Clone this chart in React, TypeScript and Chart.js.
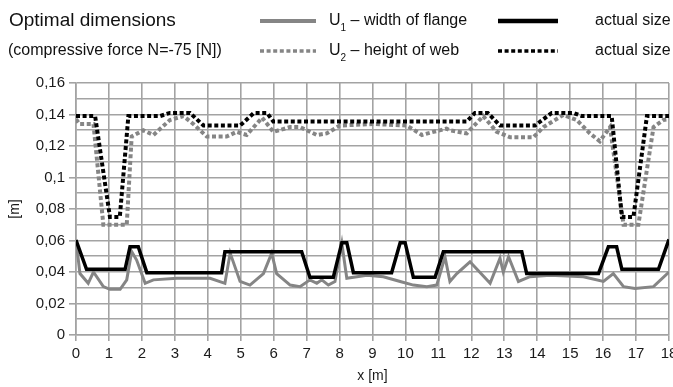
import React, { useEffect, useRef } from 'react';
import { Chart, registerables } from 'chart.js';

Chart.register(...registerables);

const FONT = "'Liberation Sans', Arial, sans-serif";
const GRID = '#a3a3a3';
const GRAY = '#858585';

const TITLE = 'Optimal dimensions';
const SUBTITLE = '(compressive force N=-75 [N])';
const X_TITLE = 'x [m]';
const Y_TITLE = '[m]';

const X_MIN = 0;
const X_MAX = 18;
const Y_MIN = 0;
const Y_MAX = 0.16;

// U1 – width of flange (optimal)
const u1X = [0, 0.12, 0.37, 0.53, 0.83, 1.03, 1.34, 1.54, 1.69, 1.84, 2.1, 2.35, 3.06, 4.07, 4.52, 4.68, 4.98, 5.28, 5.69, 5.94, 6.09, 6.5, 6.8, 7.1, 7.31, 7.46, 7.66, 7.86, 8.07, 8.22, 8.83, 9.33, 9.84, 10.24, 10.65, 10.95, 11.2, 11.35, 11.56, 11.96, 12.57, 12.87, 12.97, 13.13, 13.43, 13.78, 14.39, 15.4, 16.01, 16.31, 16.62, 16.97, 17.53, 18];
const u1Y = [0.0603, 0.039, 0.0328, 0.04, 0.0307, 0.029, 0.029, 0.035, 0.053, 0.0476, 0.0328, 0.035, 0.036, 0.036, 0.0328, 0.052, 0.034, 0.0317, 0.039, 0.052, 0.039, 0.0317, 0.0307, 0.035, 0.0328, 0.035, 0.0317, 0.034, 0.058, 0.036, 0.038, 0.037, 0.034, 0.0317, 0.0307, 0.0317, 0.0497, 0.034, 0.039, 0.0465, 0.0328, 0.0487, 0.04, 0.0497, 0.034, 0.037, 0.038, 0.037, 0.034, 0.039, 0.0307, 0.0296, 0.0307, 0.04];

// actual size of flange
const a1X = [0, 0.32, 1.49, 1.64, 1.89, 2.15, 4.42, 4.52, 6.85, 7.1, 7.81, 8.07, 8.22, 8.42, 9.58, 9.84, 9.99, 10.24, 10.9, 11.15, 13.53, 13.68, 15.86, 16.16, 16.41, 16.57, 17.68, 18];
const a1Y = [0.0603, 0.0417, 0.0417, 0.056, 0.056, 0.0396, 0.0396, 0.0529, 0.0529, 0.0366, 0.0366, 0.0586, 0.0586, 0.0396, 0.0396, 0.0586, 0.0586, 0.0366, 0.0366, 0.0529, 0.0529, 0.039, 0.039, 0.056, 0.056, 0.0417, 0.0417, 0.0607];

// U2 – height of web (optimal)
const u2X = [0, 0.1, 0.53, 0.83, 1.54, 1.69, 2.04, 2.35, 2.85, 3.26, 3.56, 3.97, 4.57, 4.88, 5.18, 5.65, 5.99, 6.5, 6.8, 7.31, 7.61, 8.01, 9.03, 10.04, 10.5, 10.85, 11.25, 11.35, 11.86, 12.36, 12.77, 13.18, 13.88, 14.19, 14.79, 15.2, 15.6, 15.9, 16.21, 16.62, 17.07, 17.53, 17.83, 18];
const u2Y = [0.137, 0.134, 0.134, 0.07, 0.07, 0.126, 0.13, 0.127, 0.1365, 0.139, 0.134, 0.126, 0.126, 0.129, 0.127, 0.138, 0.129, 0.132, 0.132, 0.127, 0.128, 0.133, 0.134, 0.133, 0.127, 0.129, 0.131, 0.13, 0.128, 0.139, 0.129, 0.1255, 0.1255, 0.132, 0.1397, 0.1365, 0.128, 0.123, 0.132, 0.07, 0.07, 0.132, 0.1365, 0.137];

// actual size of web
const a2X = [0, 0.58, 1.03, 1.33, 1.59, 2.55, 2.85, 3.46, 3.87, 4.98, 5.4, 5.8, 5.99, 11.86, 12.11, 12.5, 12.87, 13.93, 14.44, 15.1, 15.35, 16.26, 16.57, 16.92, 17.33, 18];
const a2Y = [0.139, 0.139, 0.075, 0.075, 0.139, 0.139, 0.141, 0.141, 0.133, 0.133, 0.141, 0.141, 0.1355, 0.1355, 0.141, 0.141, 0.133, 0.133, 0.141, 0.141, 0.139, 0.139, 0.075, 0.075, 0.139, 0.139];

const LEGEND_U1 = ['U', '1', ' – width of flange'];
const LEGEND_U2 = ['U', '2', ' – height of web'];
const LEGEND_ACTUAL = 'actual size';

const pts = (xs: number[], ys: number[]) => xs.map((x, i) => ({ x, y: ys[i] }));

const DOT = [4, 2.6];

const headerPlugin = {
  id: 'header',
  afterDraw(chart: any) {
    const ctx: CanvasRenderingContext2D = chart.ctx;
    ctx.save();
    ctx.fillStyle = '#111';
    ctx.textBaseline = 'middle';
    ctx.textAlign = 'left';
    ctx.font = `19px ${FONT}`;
    ctx.fillText(TITLE, 9, 21);
    ctx.font = `16px ${FONT}`;
    ctx.fillText(SUBTITLE, 8, 51);

    const sample = (x1: number, x2: number, y: number, color: string, w: number, dash: number[]) => {
      ctx.beginPath();
      ctx.strokeStyle = color;
      ctx.lineWidth = w;
      ctx.setLineDash(dash);
      ctx.moveTo(x1, y);
      ctx.lineTo(x2, y);
      ctx.stroke();
      ctx.setLineDash([]);
    };
    const subText = (parts: string[], x: number, y: number) => {
      ctx.font = `16px ${FONT}`;
      ctx.fillText(parts[0], x, y);
      let cx = x + ctx.measureText(parts[0]).width;
      ctx.font = `10px ${FONT}`;
      ctx.fillText(parts[1], cx, y + 7);
      cx += ctx.measureText(parts[1]).width;
      ctx.font = `16px ${FONT}`;
      ctx.fillText(parts[2], cx, y);
    };
    const r1 = 21;
    const r2 = 51;
    sample(260, 316, r1, GRAY, 4, []);
    subText(LEGEND_U1, 329, r1);
    sample(498, 558, r1, '#000', 4.5, []);
    ctx.font = `16px ${FONT}`;
    ctx.fillText(LEGEND_ACTUAL, 595, r1);

    sample(260, 316, r2, GRAY, 3.5, DOT);
    subText(LEGEND_U2, 329, r2);
    sample(498, 558, r2, '#000', 3.5, DOT);
    ctx.font = `16px ${FONT}`;
    ctx.fillText(LEGEND_ACTUAL, 595, r2);
    ctx.restore();
  },
};

export default function App() {
  const ref = useRef<HTMLCanvasElement | null>(null);
  useEffect(() => {
    if (!ref.current) return;
    const chart = new Chart(ref.current, {
      type: 'line',
      data: {
        datasets: [
          { label: 'actual size (flange)', data: pts(a1X, a1Y), borderColor: '#000', borderWidth: 3.5, order: 1 },
          { label: 'actual size (web)', data: pts(a2X, a2Y), borderColor: '#000', borderWidth: 4, borderDash: DOT, order: 1 },
          { label: 'U1 – width of flange', data: pts(u1X, u1Y), borderColor: GRAY, borderWidth: 3, order: 2 },
          { label: 'U2 – height of web', data: pts(u2X, u2Y), borderColor: GRAY, borderWidth: 4, borderDash: DOT, order: 2 },
        ] as any,
      },
      options: {
        animation: false,
        responsive: false,
        devicePixelRatio: 1,
        parsing: false as any,
        layout: { padding: { top: 83, right: 4, left: 0, bottom: 0 } },
        elements: { point: { radius: 0 }, line: { tension: 0, borderCapStyle: 'butt', borderJoinStyle: 'miter' } },
        plugins: { legend: { display: false }, tooltip: { enabled: false } },
        scales: {
          x: {
            type: 'linear',
            min: X_MIN,
            max: X_MAX,
            afterFit: (s: any) => { s.height = 52; s.paddingLeft = 0; s.paddingRight = 0; },
            ticks: { stepSize: 1, autoSkip: false, maxRotation: 0, padding: 4, color: '#1a1a1a', font: { family: FONT, size: 15 } },
            grid: { color: GRID, lineWidth: 1.6, tickLength: 6, tickColor: GRID },
            border: { color: GRID, width: 1.6 },
            title: { display: true, text: X_TITLE, color: '#1a1a1a', font: { family: FONT, size: 14 }, padding: { top: 0, bottom: 2 } },
          },
          y: {
            type: 'linear',
            min: Y_MIN,
            max: Y_MAX,
            afterFit: (s: any) => { s.width = 76; s.paddingTop = 0; s.paddingBottom = 0; },
            ticks: {
              stepSize: 0.01,
              autoSkip: false,
              padding: 4,
              color: '#1a1a1a',
              font: { family: FONT, size: 15 },
              callback: (v: any) => {
                const k = Math.round(Number(v) * 100);
                if (k % 2 !== 0) return '';
                return String(k / 100).replace('.', ',');
              },
            },
            grid: {
              color: GRID,
              lineWidth: 1.6,
              tickLength: 7,
              tickColor: (c: any) => (Math.round((c.tick ? c.tick.value : 0) * 100) % 2 !== 0 ? 'rgba(0,0,0,0)' : GRID),
            },
            border: { color: GRID, width: 1.6 },
            title: { display: true, text: Y_TITLE, color: '#1a1a1a', font: { family: FONT, size: 14 }, padding: { top: 7, bottom: 0 } },
          },
        },
      } as any,
      plugins: [headerPlugin],
    });
    return () => chart.destroy();
  }, []);
  return (
    <div style={{ position: 'fixed', left: 0, top: 0, width: 673, height: 387, background: '#fff' }}>
      <canvas ref={ref} width={673} height={387} style={{ display: 'block' }} />
    </div>
  );
}
